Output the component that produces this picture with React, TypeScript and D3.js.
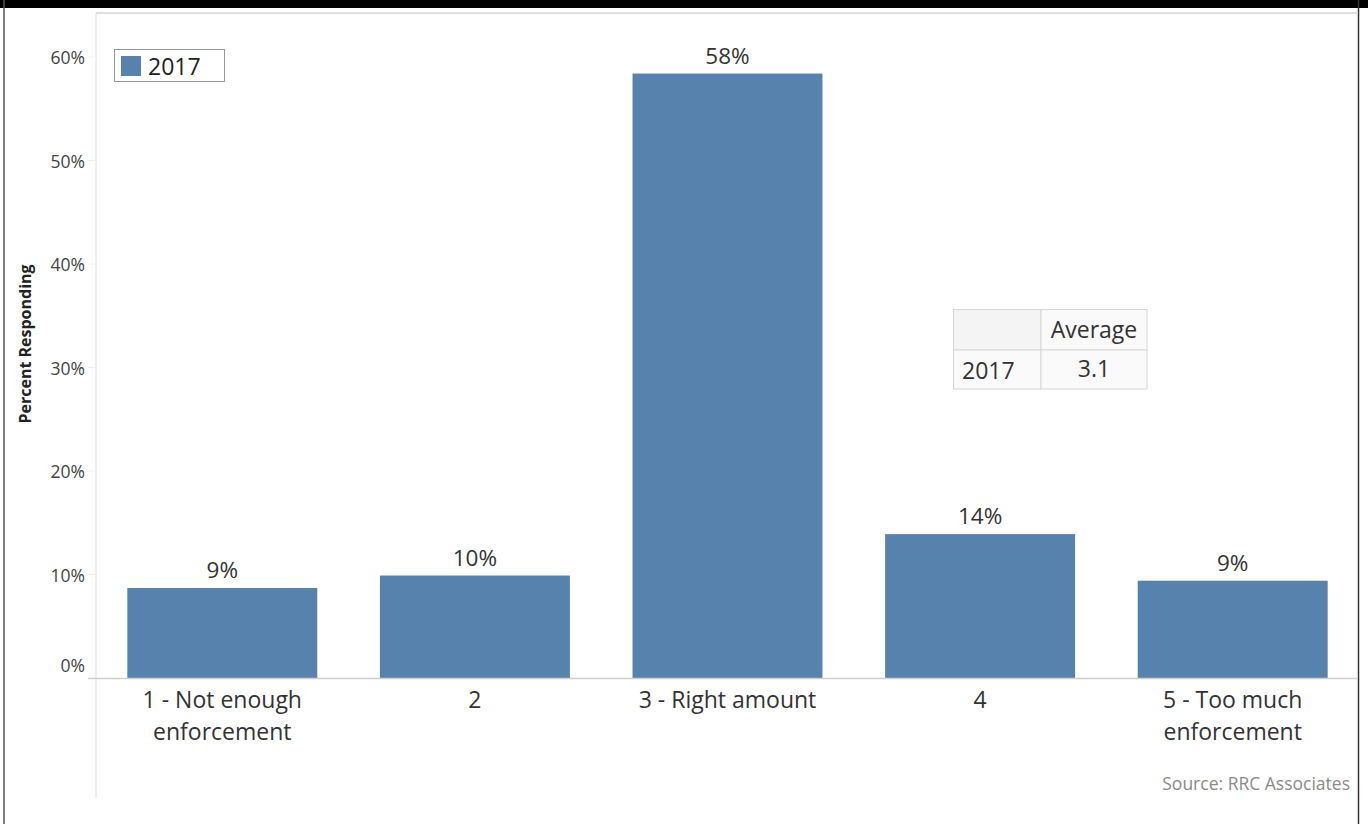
import React from "react";
import * as d3 from "d3";

const categories = ["1 - Not enough\nenforcement", "2", "3 - Right amount", "4", "5 - Too much\nenforcement"];
const values2017 = [8.7, 9.9, 58.4, 13.9, 9.4];
const yTicks = [0, 10, 20, 30, 40, 50, 60];
const legendLabel = "2017";
const avgHeader = "Average";
const avgRows = [{ year: "2017", avg: "3.1" }];
const sourceText = "Source: RRC Associates";
const yTitle = "Percent Responding";

const W = 1368;
const H = 824;
const FONT = "'Open Sans', 'Noto Sans', sans-serif";
const BAR = "#5882ae";

export default function App() {
  const x = d3.scaleBand<string>().domain(categories).range([96, 1359]).paddingInner(0.248).paddingOuter(0.124);
  const y = d3.scaleLinear().domain([0, 60]).range([678, 57]);
  const paneTop = 13;

  return (
    <div style={{ position: "absolute", left: 0, top: 0 }}>
      <svg width={W} height={H} style={{ display: "block", background: "#fff" }}>
        {/* frame */}
        <rect x={0} y={0} width={W} height={8} fill="#000" />
        <line x1={4} x2={4} y1={0} y2={H} stroke="#555" strokeWidth={1.5} />
        <line x1={1358.5} x2={1358.5} y1={0} y2={H} stroke="#333" strokeWidth={1.5} />
        {/* pane */}
        <line x1={96} x2={1358} y1={paneTop} y2={paneTop} stroke="#e0e0e0" strokeWidth={2} />
        <line x1={96} x2={96} y1={paneTop} y2={798} stroke="#dcdcdc" strokeWidth={1} />
        {/* y ticks */}
        {yTicks.map((t) => (
          <g key={t}>
            <line x1={88} x2={96} y1={y(t)} y2={y(t)} stroke="#f0f0f0" />
            <text
              x={85}
              y={t === 0 ? y(t) - 13 : y(t)}
              textAnchor="end"
              dominantBaseline="central"
              fontFamily={FONT}
              fontSize={17.5}
              fill="#444"
            >
              {t}%
            </text>
          </g>
        ))}
        <text
          transform="translate(31,344) rotate(-90)"
          textAnchor="middle"
          fontFamily={FONT}
          fontSize={16}
          fontWeight="bold"
          fill="#222"
        >
          {yTitle}
        </text>
        {/* bars */}
        {categories.map((c, i) => (
          <g key={c}>
            <rect x={x(c)} y={y(values2017[i])} width={x.bandwidth()} height={y(0) - y(values2017[i])} fill={BAR} />
            <text
              x={(x(c) as number) + x.bandwidth() / 2}
              y={y(values2017[i]) - 10}
              textAnchor="middle"
              fontFamily={FONT}
              fontSize={22.5}
              fill="#333"
            >
              {Math.round(values2017[i])}%
            </text>
            {c.split("\n").map((line, j) => (
              <text
                key={j}
                x={(x(c) as number) + x.bandwidth() / 2}
                y={708 + j * 32}
                textAnchor="middle"
                fontFamily={FONT}
                fontSize={23}
                fill="#333"
              >
                {line}
              </text>
            ))}
          </g>
        ))}
        {/* zero line */}
        <line x1={88} x2={1358} y1={y(0) + 0.5} y2={y(0) + 0.5} stroke="#cfcfcf" strokeWidth={1.5} />
        {/* legend */}
        <rect x={114.5} y={49.5} width={110} height={32} fill="#fff" stroke="#999" />
        <rect x={121} y={56} width={20} height={20} fill={BAR} />
        <text x={148} y={66} dominantBaseline="central" fontFamily={FONT} fontSize={23} fill="#222">
          {legendLabel}
        </text>
        {/* average table */}
        <g fontFamily={FONT} fontSize={23} fill="#333">
          <rect x={953.5} y={309.5} width={87.5} height={40.5} fill="#f4f4f4" stroke="#d6d6d6" />
          <rect x={1041} y={309.5} width={106} height={40.5} fill="#fafafa" stroke="#d6d6d6" />
          <text x={1094} y={329} textAnchor="middle" dominantBaseline="central">
            {avgHeader}
          </text>
          {avgRows.map((r, i) => (
            <g key={r.year}>
              <rect x={953.5} y={350 + i * 39} width={87.5} height={39} fill="#fafafa" stroke="#d6d6d6" />
              <rect x={1041} y={350 + i * 39} width={106} height={39} fill="#fafafa" stroke="#d6d6d6" />
              <text x={962} y={370 + i * 39} dominantBaseline="central">
                {r.year}
              </text>
              <text x={1094} y={368 + i * 39} textAnchor="middle" dominantBaseline="central">
                {r.avg}
              </text>
            </g>
          ))}
        </g>
        {/* source */}
        <text x={1350} y={783} textAnchor="end" dominantBaseline="central" fontFamily={FONT} fontSize={17.5} fill="#8a8a8a">
          {sourceText}
        </text>
      </svg>
    </div>
  );
}
